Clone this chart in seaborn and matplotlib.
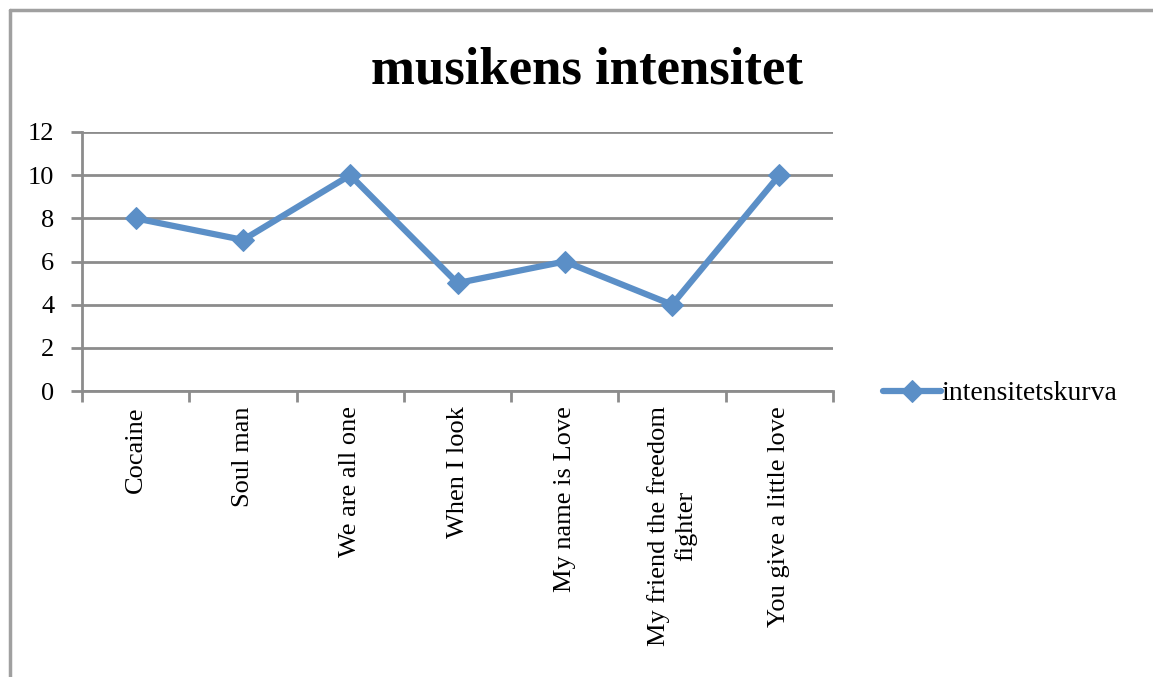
import matplotlib
matplotlib.use("Agg")
import matplotlib.pyplot as plt
from matplotlib.lines import Line2D
import seaborn as sns
import pandas as pd

songs = ["Cocaine", "Soul man", "We are all one", "When I look",
         "My name is Love", "My friend the freedom\nfighter", "You give a little love"]
intensity = [8, 7, 10, 5, 6, 4, 10]
series_name = "intensitetskurva"
title = "musikens intensitet"
yticks = [0, 2, 4, 6, 8, 10, 12]

sns.set_theme(style="white")
plt.rcParams['font.family'] = ['Liberation Serif', 'DejaVu Serif']
plt.rcParams['text.color'] = 'black'
plt.rcParams['xtick.color'] = 'black'
plt.rcParams['ytick.color'] = 'black'

W, H = 1153, 677
fig = plt.figure(figsize=(W / 100, H / 100), dpi=100)
ax = fig.add_axes([82 / W, 1 - 391 / H, (833 - 82) / W, (391 - 132) / H])

df = pd.DataFrame({"song": songs, "value": intensity, "series": series_name})
line_color = "#5B8FC7"
sns.lineplot(data=df, x="song", y="value", hue="series", palette=[line_color],
             sort=False, marker="D", markersize=11, linewidth=4.5,
             markeredgecolor=line_color, ax=ax)

ax.set_xlim(-0.5, len(songs) - 0.5)
ax.set_ylim(0, 12)
ax.set_yticks(yticks)
ax.set_yticklabels([str(v) for v in yticks], fontsize=19)
ax.set_xticks(range(len(songs)))
ax.set_xticklabels(songs, rotation=90, fontsize=19, va="top", ha="center",
                   multialignment="center")
ax.set_xticks([i - 0.5 for i in range(len(songs) + 1)], minor=True)
ax.tick_params(axis="x", which="major", length=0, pad=11, colors="black")
ax.tick_params(axis="x", which="minor", length=8, width=2, color="#8c8c8c", direction="out", bottom=True)
ax.tick_params(axis="y", length=8, width=2, color="#8c8c8c", labelcolor="black",
               direction="out", left=True, pad=12)
ax.set_xlabel("")
ax.set_ylabel("")

ax.yaxis.grid(True, color="#8c8c8c", linewidth=2)
ax.xaxis.grid(False)
ax.set_axisbelow(True)
for s in ["top", "right"]:
    ax.spines[s].set_visible(False)
for s in ["left", "bottom"]:
    ax.spines[s].set_color("#8c8c8c")
    ax.spines[s].set_linewidth(2)

fig.text(587 / W, 1 - 71 / H, title, ha="center", va="center",
         fontsize=38, fontweight="bold", color="black")

leg = ax.legend(loc="center left", bbox_to_anchor=(1.052, -0.01), frameon=False,
                fontsize=20, handlelength=2.1, handletextpad=0.0, borderaxespad=0)
for t in leg.get_texts():
    t.set_color("black")

fig.add_artist(Line2D([10 / W, 10 / W], [0, 1 - 10 / H], color="#a0a0a0", linewidth=2.5))
fig.add_artist(Line2D([10 / W, 1], [1 - 10 / H, 1 - 10 / H], color="#a0a0a0", linewidth=2.5))

fig.savefig("out.png", dpi=100, facecolor="white")
